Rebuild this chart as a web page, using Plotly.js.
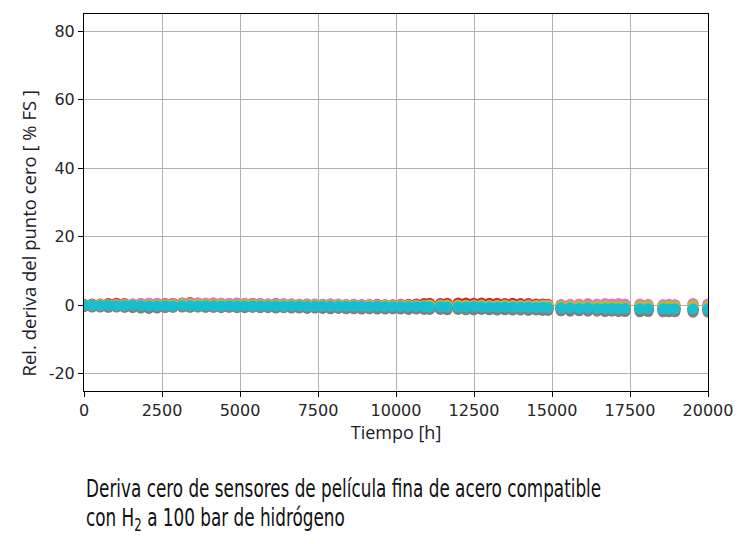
<!DOCTYPE html>
<html>
<head>
<meta charset="utf-8">
<script src="https://cdn.plot.ly/plotly-3.0.1.min.js"></script>
<style>
  html, body { margin: 0; padding: 0; background: #fff; }
  #chart { width: 746px; height: 544px; }
</style>
</head>
<body>
<div id="chart"></div>
<script>
// measurement times [h]
var tiempo = [
  0, 260, 520, 780, 1040, 1300, 1560, 1820, 2080, 2340, 2600, 2850,
  3150, 3400, 3650, 3900, 4150, 4400, 4650, 4900, 5150, 5400, 5650, 5900, 6150, 6400, 6650, 6900, 7150, 7400, 7650, 7900, 8150, 8400, 8650, 8900, 9150, 9400, 9650, 9900, 10150, 10400, 10650, 10900, 11080,
  11420, 11640,
  11990, 12240, 12490, 12740, 12990, 13240, 13490, 13740, 13990, 14240, 14490, 14700, 14870,
  15290, 15580, 15870, 16150, 16440, 16700, 16920, 17130, 17340, 17820, 18080, 18560, 18750, 18940, 19520, 20000
];

// zero drift per sensor [%FS]
var sensor1 = [
  0.1, 0.0, 0.1, 0.0, 0.0, 0.1, 0.0, 0.0, -0.1, 0.0, 0.0, -0.1,
  0.0, 0.0, -0.1, 0.0, -0.1, -0.1, 0.0, -0.1, -0.1, -0.1, -0.2, -0.1, -0.1, -0.2, -0.2, -0.1, -0.2, -0.2, -0.2, -0.2, -0.3, -0.2, -0.3, -0.3, -0.3, -0.3, -0.3, -0.4, -0.3, -0.4, -0.4, -0.4, -0.4,
  -0.4, -0.5,
  -0.5, -0.5, -0.5, -0.6, -0.5, -0.6, -0.6, -0.6, -0.6, -0.7, -0.6, -0.7, -0.7,
  -0.7, -0.8, -0.8, -0.8, -0.8, -0.9, -0.8, -0.9, -0.9, -0.9, -1.0, -0.9, -1.0, -1.0, -1.0, -1.0
];
var sensor2 = [
  -0.3, -0.4, -0.4, -0.5, -0.4, -0.5, -0.4, -0.5, -0.5, -0.4, -0.5, -0.5,
  -0.4, -0.5, -0.4, -0.5, -0.5, -0.4, -0.5, -0.5, -0.6, -0.5, -0.6, -0.5, -0.6, -0.6, -0.5, -0.6, -0.6, -0.7, -0.6, -0.7, -0.7, -0.6, -0.7, -0.7, -0.8, -0.7, -0.8, -0.8, -0.7, -0.8, -0.8, -0.9, -0.8,
  -0.9, -0.9,
  -0.9, -1.0, -0.9, -1.0, -1.0, -0.9, -1.0, -1.0, -1.1, -1.0, -1.1, -1.1, -1.0,
  -1.1, -1.2, -1.1, -1.2, -1.2, -1.3, -1.2, -1.3, -1.3, -1.2, -1.3, -1.3, -1.4, -1.3, -1.4, -1.4
];
var sensor3 = [
  0.2, 0.1, 0.2, 0.1, 0.1, 0.2, 0.1, 0.1, 0.0, 0.1, 0.0, 0.0,
  0.1, 0.0, 0.1, 0.0, 0.0, 0.1, 0.0, 0.0, -0.1, 0.0, -0.1, -0.1, 0.0, -0.1, -0.1, -0.1, -0.2, -0.1, -0.2, -0.2, -0.2, -0.1, -0.2, -0.2, -0.3, -0.2, -0.3, -0.3, -0.3, -0.3, -0.2, -0.3, -0.3,
  -0.3, -0.3,
  -0.4, -0.3, -0.4, -0.4, -0.4, -0.5, -0.4, -0.5, -0.5, -0.5, -0.5, -0.6, -0.5,
  -0.6, -0.6, -0.7, -0.6, -0.7, -0.7, -0.7, -0.7, -0.8, -0.7, -0.8, -0.8, -0.8, -0.8, -0.9, -0.8
];
var sensor4 = [
  0.3, 0.4, 0.4, 0.5, 0.6, 0.5, 0.4, 0.5, 0.6, 0.5, 0.5, 0.6,
  0.7, 0.8, 0.7, 0.6, 0.7, 0.6, 0.5, 0.6, 0.5, 0.6, 0.5, 0.4, 0.5, 0.4, 0.4, 0.3, 0.4, 0.3, 0.3, 0.4, 0.3, 0.2, 0.3, 0.2, 0.2, 0.3, 0.2, 0.2, 0.3, 0.3, 0.4, 0.5, 0.6,
  0.5, 0.6,
  0.7, 0.7, 0.6, 0.7, 0.6, 0.6, 0.5, 0.6, 0.5, 0.5, 0.4, 0.4, 0.3,
  0.2, 0.1, 0.2, 0.1, 0.1, 0.2, 0.1, 0.0, 0.1, 0.0, 0.0, 0.1, 0.0, 0.1, 0.4, 0.3
];
var sensor5 = [
  -0.2, -0.2, -0.3, -0.2, -0.3, -0.3, -0.2, -0.3, -0.3, -0.4, -0.3, -0.3,
  -0.3, -0.3, -0.4, -0.3, -0.4, -0.4, -0.4, -0.3, -0.4, -0.4, -0.5, -0.4, -0.5, -0.5, -0.4, -0.5, -0.5, -0.5, -0.6, -0.5, -0.6, -0.6, -0.6, -0.6, -0.7, -0.6, -0.7, -0.7, -0.7, -0.7, -0.8, -0.7, -0.8,
  -0.8, -0.8,
  -0.8, -0.8, -0.9, -0.8, -0.9, -0.9, -0.9, -0.9, -1.0, -0.9, -1.0, -1.0, -1.0,
  -1.1, -1.1, -1.1, -1.2, -1.1, -1.2, -1.2, -1.2, -1.3, -1.2, -1.3, -1.3, -1.3, -1.3, -1.4, -1.3
];
var sensor6 = [
  0.0, -0.1, -0.1, 0.0, -0.1, -0.2, -0.1, -0.2, -0.2, -0.1, -0.2, -0.2,
  -0.2, -0.2, -0.3, -0.2, -0.2, -0.3, -0.3, -0.2, -0.3, -0.3, -0.3, -0.4, -0.3, -0.4, -0.4, -0.3, -0.4, -0.4, -0.4, -0.5, -0.4, -0.5, -0.5, -0.5, -0.5, -0.6, -0.5, -0.6, -0.6, -0.6, -0.6, -0.7, -0.6,
  -0.7, -0.7,
  -0.7, -0.7, -0.8, -0.7, -0.8, -0.8, -0.8, -0.8, -0.9, -0.8, -0.9, -0.9, -0.9,
  -1.0, -1.0, -1.0, -1.1, -1.0, -1.1, -1.1, -1.1, -1.2, -1.1, -1.2, -1.2, -1.2, -1.2, -1.3, -1.2
];
var sensor7 = [
  0.2, 0.2, 0.3, 0.2, 0.3, 0.3, 0.4, 0.5, 0.6, 0.5, 0.4, 0.5,
  0.6, 0.6, 0.7, 0.6, 0.7, 0.6, 0.6, 0.7, 0.6, 0.5, 0.5, 0.4, 0.4, 0.5, 0.4, 0.3, 0.3, 0.4, 0.3, 0.4, 0.4, 0.3, 0.3, 0.2, 0.3, 0.2, 0.2, 0.1, 0.2, 0.1, 0.1, 0.0, 0.1,
  0.1, 0.0,
  0.1, 0.0, 0.1, 0.1, 0.0, 0.0, 0.1, 0.0, 0.0, 0.1, 0.0, 0.1, 0.1,
  0.2, 0.3, 0.4, 0.5, 0.4, 0.5, 0.4, 0.5, 0.4, 0.4, 0.3, 0.2, 0.3, 0.2, 0.5, 0.4
];
var sensor8 = [
  -0.4, -0.5, -0.5, -0.6, -0.5, -0.6, -0.7, -0.8, -0.9, -0.8, -0.7, -0.6,
  -0.5, -0.6, -0.5, -0.6, -0.6, -0.7, -0.6, -0.7, -0.7, -0.6, -0.7, -0.7, -0.8, -0.7, -0.8, -0.8, -0.9, -0.8, -0.9, -1.0, -0.9, -1.0, -1.0, -1.1, -1.0, -1.1, -1.1, -1.0, -1.1, -1.2, -1.1, -1.2, -1.2,
  -1.2, -1.3,
  -1.2, -1.3, -1.3, -1.2, -1.3, -1.4, -1.3, -1.4, -1.4, -1.5, -1.4, -1.5, -1.5,
  -1.6, -1.7, -1.6, -1.7, -1.7, -1.8, -1.7, -1.8, -1.8, -1.9, -1.8, -1.9, -1.9, -1.9, -2.0, -2.0
];
var sensor9 = [
  0.1, 0.2, 0.1, 0.2, 0.1, 0.2, 0.2, 0.1, 0.2, 0.1, 0.2, 0.2,
  0.3, 0.3, 0.2, 0.3, 0.2, 0.3, 0.2, 0.2, 0.3, 0.2, 0.2, 0.1, 0.2, 0.1, 0.1, 0.1, 0.0, 0.1, 0.0, 0.0, 0.1, 0.0, 0.0, -0.1, 0.0, -0.1, 0.0, -0.1, -0.1, 0.0, -0.1, -0.1, 0.1,
  0.0, 0.1,
  0.0, 0.0, -0.1, 0.0, -0.1, -0.1, 0.0, -0.1, -0.1, -0.2, -0.1, -0.2, -0.2,
  -0.2, -0.3, -0.2, -0.3, -0.3, -0.2, -0.3, -0.3, -0.4, -0.3, -0.3, -0.4, -0.3, -0.4, -0.2, -0.3
];
var sensor10 = [
  0.0, 0.0, -0.1, 0.0, -0.1, -0.1, 0.0, -0.1, -0.2, -0.2, -0.1, -0.2,
  -0.1, -0.1, -0.2, -0.1, -0.2, -0.2, -0.1, -0.2, -0.2, -0.2, -0.2, -0.2, -0.2, -0.3, -0.2, -0.2, -0.3, -0.3, -0.3, -0.3, -0.3, -0.3, -0.3, -0.3, -0.4, -0.3, -0.4, -0.4, -0.4, -0.4, -0.4, -0.4, -0.5,
  -0.4, -0.5,
  -0.5, -0.5, -0.4, -0.5, -0.5, -0.6, -0.5, -0.6, -0.6, -0.6, -0.7, -0.6, -0.7,
  -0.8, -0.8, -0.9, -0.8, -0.9, -0.9, -0.9, -1.0, -0.9, -1.0, -1.0, -1.0, -1.1, -1.0, -1.1, -1.1
];

var sensores = [sensor1, sensor2, sensor3, sensor4, sensor5, sensor6, sensor7, sensor8, sensor9, sensor10];
var colores = ['#1f77b4', '#ff7f0e', '#2ca02c', '#d62728', '#9467bd',
               '#8c564b', '#e377c2', '#7f7f7f', '#bcbd22', '#17becf'];

var xTicks = [0, 2500, 5000, 7500, 10000, 12500, 15000, 17500, 20000];
var yTicks = [-20, 0, 20, 40, 60, 80];
var yTickText = ['-20', '0', '20', '40', '60', '80'];

var data = sensores.map(function (s, i) {
  return {
    x: tiempo,
    y: s,
    type: 'scatter',
    mode: 'markers',
    marker: {color: colores[i], size: 11},
    hoverinfo: 'x+y',
    showlegend: false
  };
});

var tickFont = {family: 'DejaVu Sans, sans-serif', size: 16, color: '#262626'};
var tituloFont = {family: 'Open Sans, sans-serif', size: 18, color: '#1b1b2b'};
var pieFont = {family: 'DejaVu Sans Condensed, DejaVu Sans, sans-serif', size: 24, color: '#111'};

var layout = {
  width: 746,
  height: 544,
  margin: {l: 84, r: 38, t: 14, b: 153},
  paper_bgcolor: '#fff',
  plot_bgcolor: '#fff',
  xaxis: {
    range: [0, 20000],
    tickvals: xTicks,
    tickformat: 'd',
    tickfont: tickFont,
    ticks: 'outside',
    ticklen: 5,
    tickcolor: '#000',
    showline: true,
    mirror: true,
    linecolor: '#000',
    linewidth: 1,
    showgrid: true,
    gridcolor: '#b0b0b0',
    zeroline: false,
    title: {text: 'Tiempo [h]', font: tituloFont, standoff: 4}
  },
  yaxis: {
    range: [-25, 85],
    tickvals: yTicks,
    ticktext: yTickText,
    tickfont: tickFont,
    ticks: 'outside',
    ticklen: 5,
    tickcolor: '#000',
    showline: true,
    mirror: true,
    linecolor: '#000',
    linewidth: 1,
    showgrid: true,
    gridcolor: '#b0b0b0',
    zeroline: false
  },
  annotations: [
    {
      // y axis title, sitting a little below the middle of the axis as in the original
      text: 'Rel. deriva del punto cero [ % FS ]',
      xref: 'paper', yref: 'paper', x: -0.0897, y: 0.418,
      xanchor: 'center', yanchor: 'middle', textangle: -90, showarrow: false,
      font: {family: 'Open Sans, sans-serif', size: 18.5, color: '#1b1b2b'}
    },
    {
      text: 'Deriva cero de sensores de película fina de acero compatible',
      xref: 'paper', yref: 'paper', x: 0, y: -0.261,
      xanchor: 'left', yanchor: 'middle', showarrow: false,
      font: pieFont
    },
    {
      text: 'con H<sub>2</sub> a 100 bar de hidrógeno',
      xref: 'paper', yref: 'paper', x: 0, y: -0.342,
      xanchor: 'left', yanchor: 'middle', showarrow: false,
      font: pieFont
    }
  ]
};

Plotly.newPlot('chart', data, layout, {displayModeBar: false, staticPlot: true}).then(function (gd) {
  // the caption uses a narrow typeface in the original: squeeze it horizontally
  var notas = gd.querySelectorAll('.annotation-text');
  for (var i = 1; i < notas.length; i++) {
    notas[i].style.transformBox = 'fill-box';
    notas[i].style.transformOrigin = '0 50%';
    notas[i].style.transform = 'scaleX(0.78)';
  }
});
</script>
</body>
</html>
